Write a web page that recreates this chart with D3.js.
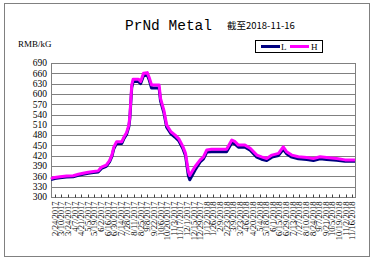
<!DOCTYPE html>
<html>
<head>
<meta charset="utf-8">
<script src="https://cdn.jsdelivr.net/npm/d3@7"></script>
<style>
  body { margin: 0; background: #fff; }
  svg text { font-family: "Liberation Serif", "DejaVu Serif", serif; fill: #000; }
</style>
</head>
<body>
<script>
// price points (RMB/kG)
var dates = ["2017-02-16","2017-02-24","2017-03-07","2017-03-21","2017-04-04","2017-04-15","2017-04-25",
  "2017-05-06","2017-05-17","2017-05-27","2017-06-03","2017-06-13","2017-06-20","2017-06-25","2017-06-29",
  "2017-07-05","2017-07-16","2017-07-21","2017-07-26","2017-07-31","2017-08-02","2017-08-06","2017-08-09",
  "2017-08-20","2017-08-25","2017-08-31","2017-09-08","2017-09-12","2017-09-17","2017-10-03","2017-10-06",
  "2017-10-13","2017-10-19","2017-10-28","2017-11-06","2017-11-14","2017-11-22","2017-11-28","2017-12-04",
  "2017-12-07","2017-12-18","2017-12-29","2018-01-05","2018-01-12","2018-01-22","2018-02-23","2018-03-06",
  "2018-03-13","2018-03-20","2018-04-03","2018-04-14","2018-04-28","2018-05-08","2018-05-19","2018-05-30",
  "2018-06-13","2018-06-23","2018-06-30","2018-07-11","2018-07-25","2018-08-12","2018-08-26","2018-09-09",
  "2018-09-23","2018-10-14","2018-11-01","2018-11-22"];
var high = [354,357,359,361,362,366,369,372,374,376,387,393,406,422,445,461,461,476,487,510,534,626,643,
  643,636,660,662,648,626,626,587,553,510,490,480,469,448,427,374,363,388,408,417,437,439,439,466,
  461,451,451,442,422,417,412,422,427,446,432,422,417,415,412,417,415,412,408,408];
var low = [351,354,356,358,359,363,366,369,371,373,383,389,402,418,440,456,456,471,482,505,528,618,636,
  636,630,653,655,641,617,617,580,546,503,484,474,463,442,420,362,350,378,402,411,431,432,432,458,
  454,445,445,436,416,410,406,416,421,439,426,416,411,409,406,411,409,407,404,404];

var yTicks = d3.range(300, 691, 30);
var W = 374, H = 264;
var margin = {left: 51, right: 19, top: 63, bottom: 67};

var svg = d3.select("body").append("svg").attr("width", W).attr("height", H);

// outer chart frame
svg.append("rect").attr("x", 4.5).attr("y", 3.5).attr("width", 365).attr("height", 253)
  .attr("fill", "#fff").attr("stroke", "#808080");

var parse = d3.timeParse("%Y-%m-%d");
var pts = dates.map(function(d, i) { return {d: parse(d), h: high[i], l: low[i]}; });

var x = d3.scaleTime()
  .domain([parse("2017-02-16"), parse("2018-11-22")])
  .range([margin.left, W - margin.right]);
var y = d3.scaleLinear().domain([300, 690]).range([H - margin.bottom, margin.top]);

// grid
svg.append("g").selectAll("line").data(yTicks.slice(1)).join("line")
  .attr("x1", margin.left).attr("x2", W - margin.right)
  .attr("y1", function(d) { return Math.round(y(d)) + 0.5; })
  .attr("y2", function(d) { return Math.round(y(d)) + 0.5; })
  .attr("stroke", "#808080");

// plot border
svg.append("rect").attr("x", margin.left + 0.5).attr("y", Math.round(y(690)) + 0.5)
  .attr("width", W - margin.right - margin.left).attr("height", Math.round(y(300)) - Math.round(y(690)))
  .attr("fill", "none").attr("stroke", "#808080");

// y axis labels
svg.append("g").selectAll("text").data(yTicks).join("text")
  .attr("x", 47).attr("y", function(d) { return y(d); }).attr("dy", "0.35em")
  .attr("text-anchor", "end").style("font-size", "9.5px").text(function(d) { return d; });

// x axis: biweekly ticks
var tickDates = d3.timeDay.every(1).range(parse("2017-02-24"), parse("2018-11-17"))
  .filter(function(d, i) { return i % 14 === 0; });
var fmt = function(d) { return (d.getMonth() + 1) + "/" + d.getDate() + "/" + d.getFullYear(); };
var xAxis = svg.append("g").attr("transform", "translate(0," + (Math.round(y(300)) + 0.5) + ")");
xAxis.selectAll("line").data(tickDates).join("line")
  .attr("x1", function(d) { return Math.round(x(d)) + 0.5; })
  .attr("x2", function(d) { return Math.round(x(d)) + 0.5; })
  .attr("y1", 0).attr("y2", -3).attr("stroke", "#404040");
xAxis.selectAll("text").data(tickDates).join("text")
  .attr("transform", function(d) { return "translate(" + (x(d) + 3) + ",4) rotate(-90)"; })
  .attr("text-anchor", "end").style("font-size", "8.5px").text(fmt);

// lines
var lineL = d3.line().x(function(d) { return x(d.d); }).y(function(d) { return y(d.l); });
var lineH = d3.line().x(function(d) { return x(d.d); }).y(function(d) { return y(d.h); });
svg.append("path").datum(pts).attr("d", lineL).attr("fill", "none")
  .attr("stroke", "#000080").attr("stroke-width", 3).attr("stroke-linejoin", "round");
svg.append("path").datum(pts).attr("d", lineH).attr("fill", "none")
  .attr("stroke", "#ff00ff").attr("stroke-width", 3).attr("stroke-linejoin", "round");

// title
svg.append("text").attr("x", 125).attr("y", 30)
  .style("font-family", "'Liberation Mono', monospace").style("font-size", "14.5px").text("PrNd Metal");
svg.append("text").attr("x", 227).attr("y", 29)
  .style("font-family", "'Noto Sans CJK SC', sans-serif").style("font-size", "9.5px").text("截至2018-11-16");
svg.append("text").attr("x", 18).attr("y", 47).style("font-size", "9px").text("RMB/kG");

// legend
var lg = svg.append("g").attr("transform", "translate(255,40)");
lg.append("rect").attr("x", 0.5).attr("y", 0.5).attr("width", 67).attr("height", 12)
  .attr("fill", "#fff").attr("stroke", "#000").attr("stroke-width", 1);
lg.append("line").attr("x1", 6).attr("x2", 25).attr("y1", 6.5).attr("y2", 6.5)
  .attr("stroke", "#000080").attr("stroke-width", 3);
lg.append("text").attr("x", 26).attr("y", 10).style("font-size", "9px").text("L");
lg.append("line").attr("x1", 35).attr("x2", 54).attr("y1", 6.5).attr("y2", 6.5)
  .attr("stroke", "#ff00ff").attr("stroke-width", 3);
lg.append("text").attr("x", 56).attr("y", 10).style("font-size", "9px").text("H");
</script>
</body>
</html>
